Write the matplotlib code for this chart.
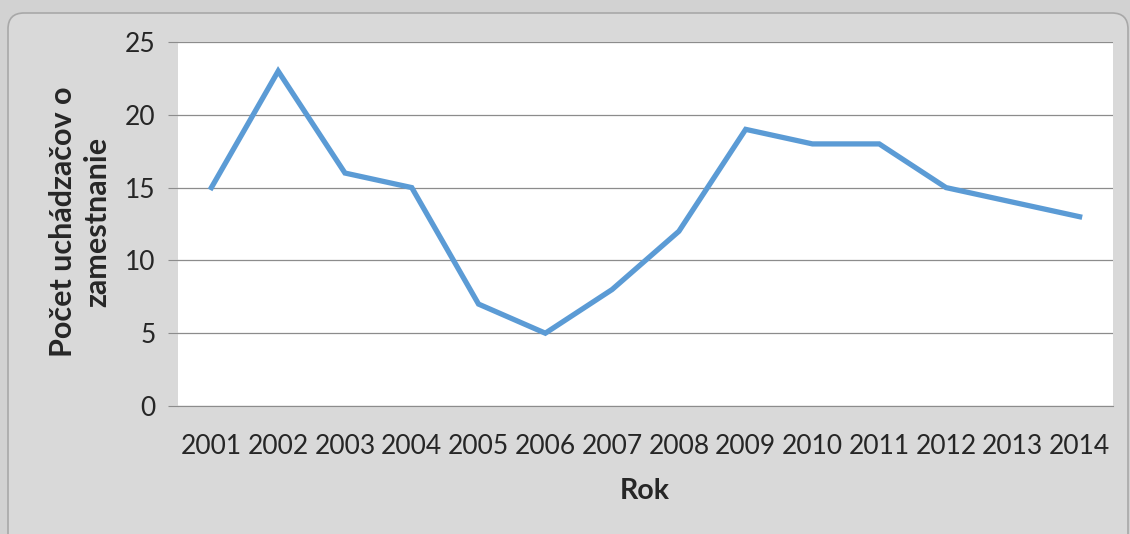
import matplotlib.pyplot as plt
from matplotlib.patches import FancyBboxPatch

years = ['2001', '2002', '2003', '2004', '2005', '2006', '2007',
         '2008', '2009', '2010', '2011', '2012', '2013', '2014']
applicants = [15, 23, 16, 15, 7, 5, 8, 12, 19, 18, 18, 15, 14, 13]
y_ticks = [0, 5, 10, 15, 20, 25]

plt.rcParams['font.family'] = ['Lato', 'DejaVu Sans']

W, H = 1130, 534
fig = plt.figure(figsize=(W / 100, H / 100), dpi=100)
fig.patch.set_facecolor('#d2d2d2')

# rounded chart area box (coords in inches, runs off the bottom edge)
box = FancyBboxPatch((0.08, -0.5), 11.2, 5.34 - 0.13 + 0.5,
                     boxstyle='round,pad=0,rounding_size=0.16',
                     transform=fig.dpi_scale_trans, facecolor='#d9d9d9',
                     edgecolor='#a8a8a8', linewidth=1.2, zorder=-5)
fig.patches.append(box)

ax = fig.add_axes([178 / W, 1 - 406 / H, (1113 - 178) / W, (406 - 42) / H])
ax.set_zorder(1)
ax.set_facecolor('white')

x = list(range(len(years)))
ax.plot(x, applicants, color='#5b9bd5', linewidth=3.8, solid_joinstyle='miter', zorder=3)

ax.set_xlim(-0.5, len(years) - 0.5)
ax.set_ylim(0, 25)
ax.set_yticks(y_ticks)
ax.set_xticks(x)
ax.set_xticklabels(years)
ax.grid(axis='y', color='#8c8c8c', linewidth=0.9)
ax.set_axisbelow(True)

for side in ['top', 'right', 'left']:
    ax.spines[side].set_visible(False)
ax.spines['bottom'].set_color('#8c8c8c')
ax.tick_params(axis='y', length=7, color='#8c8c8c', labelsize=19, pad=9, labelcolor='#262626')
ax.tick_params(axis='x', length=0, labelsize=19, pad=20, labelcolor='#262626')

# axis titles placed in figure pixels, as in the reference
fig.text(645 / W, 1 - 491 / H, 'Rok', fontsize=20.5, fontweight='bold',
         ha='center', va='center', color='#262626')
fig.text(80 / W, 1 - 222 / H, 'Počet uchádzačov o\nzamestnanie', fontsize=22,
         fontweight='bold', rotation=90, ha='center', va='center',
         multialignment='center', linespacing=1.3, color='#262626')

fig.savefig('out.png', dpi=100, facecolor=fig.get_facecolor())
